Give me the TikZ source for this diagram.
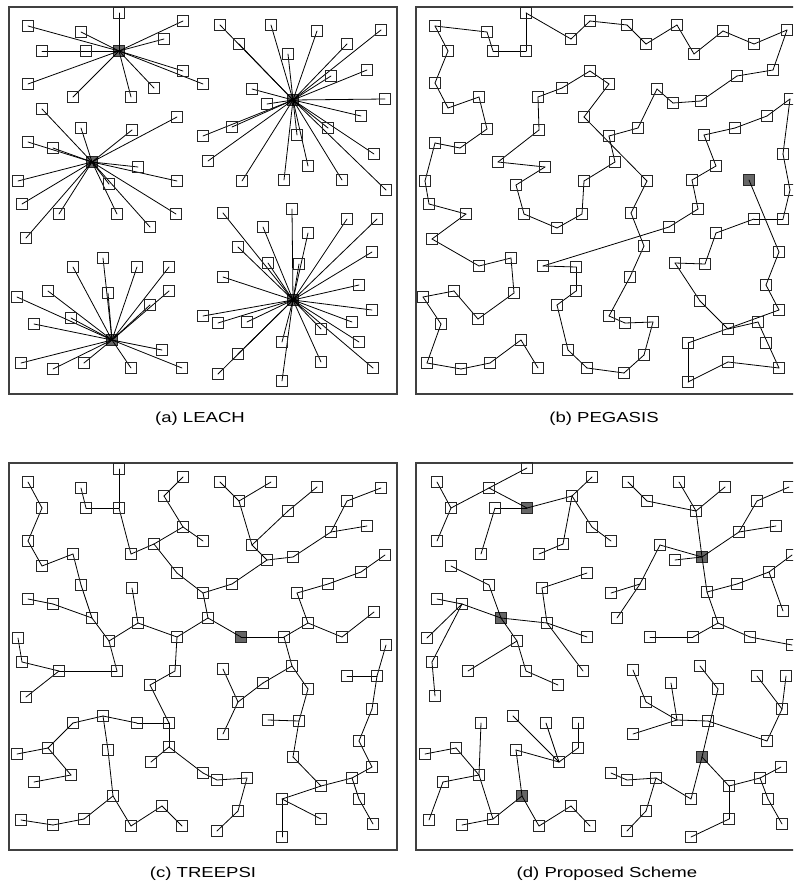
\documentclass[tikz,border=0pt]{standalone}
\usepackage{fontspec}
\newfontfamily\capfont{Liberation Sans}
\usepackage{tikz}
\usepackage{tkz-euclide}
\tikzset{
  sensor/.style={rectangle, draw=black!85, line width=1pt, minimum size=11pt, inner sep=0pt},
  head/.style={sensor, fill=black!60},
  link/.style={black, line width=0.8pt},
  panel/.style={draw=black!75, line width=1.2pt},
  caption/.style={font=\capfont\fontsize{14.5}{17}\selectfont, inner sep=0pt}
}

\begin{document}
\begin{tikzpicture}[x=1pt,y=-1pt]
\useasboundingbox (0,0) rectangle (793,889);
\clip (0,0) rectangle (793,889);
\draw[panel] (9,7) rectangle (397,394);
\draw[panel] (416,7) rectangle (805,394);
\draw[panel] (9,463) rectangle (397,850);
\draw[panel] (416,463) rectangle (805,850);

% (a) LEACH
\tkzDefPoints{119/51/H1, 293/100/H2, 92/162/H3, 112/340/H4, 293/300/H5}
\tkzDefPoints{119/13/A1, 28/26/A2, 81/32/A3, 42/51/A4, 86/51/A5, 183/21/A6, 164/39/A7,
  183/71/A8, 203/84/A9, 154/88/A10, 131/97/A11, 73/97/A12, 28/84/A13}
\tkzDefPoints{220/25/B1, 239/44/B2, 271/25/B3, 288/54/B4, 317/31/B5, 381/30/B6, 347/44/B7,
  367/70/B8, 331/76/B9, 385/99/B10, 361/116/B11, 252/89/B12, 267/104/B13, 232/127/B14,
  203/136/B15, 208/161/B16, 297/135/B17, 328/128/B18, 308/166/B19, 374/154/B20,
  242/181/B21, 284/180/B22, 342/180/B23, 386/190/B24}
\tkzDefPoints{42/109/C1, 81/128/C2, 132/130/C3, 177/117/C4, 28/142/C5, 53/148/C6,
  138/167/C7, 177/181/C8, 18/181/C9, 109/184/C10, 22/204/C11, 59/214/C12, 26/238/C13,
  117/214/C14, 150/227/C15, 176/214/C16}
\tkzDefPoints{73/267/D1, 103/258/D2, 137/267/D3, 169/267/D4, 108/293/D5, 169/291/D6,
  150/305/D7, 48/291/D8, 17/297/D9, 71/318/D10, 34/324/D11, 162/350/D12, 21/363/D13,
  53/369/D14, 84/363/D15, 131/368/D16, 182/368/D17}
\tkzDefPoints{223/213/E1, 292/209/E2, 263/227/E3, 308/233/E4, 347/219/E5, 377/219/E6,
  238/247/E7, 268/263/E8, 299/264/E9, 372/252/E10, 223/277/E11, 359/285/E12, 372/310/E13,
  203/316/E14, 218/323/E15, 247/322/E16, 352/322/E17, 321/329/E18, 282/342/E19,
  359/342/E20, 238/354/E21, 218/374/E22, 321/362/E23, 373/368/E24, 282/381/E25}
\foreach \k in {1,...,5} \node[head] (nH\k) at (H\k) {};
\foreach \c/\n/\k in {A/13/1, B/24/2, C/16/3, D/17/4, E/25/5}
  \foreach \i in {1,...,\n} {\tkzDrawSegment[link](H\k,\c\i)}

% (b) PEGASIS
\tkzDefPoints{538/368/P1, 521/340/P2, 490/363/P3, 461/369/P4, 427/363/P5, 441/324/P6,
  423/297/P7, 454/291/P8, 478/319/P9, 514/293/P10, 511/258/P11, 479/266/P12, 432/239/P13,
  466/214/P14, 429/204/P15, 425/181/P16, 435/143/P17, 460/148/P18, 487/129/P19,
  479/97/P20, 448/108/P21, 435/83/P22, 448/51/P23, 435/26/P24, 487/32/P25, 493/51/P26,
  526/51/P27, 526/13/P28, 571/39/P29, 590/21/P30, 627/25/P31, 646/44/P32, 677/25/P33,
  694/54/P34, 723/31/P35, 754/44/P36, 787/30/P37, 773/70/P38, 737/76/P39, 701/101/P40,
  673/103/P41, 657/89/P42, 638/128/P43, 609/136/P44, 615/162/P45, 584/181/P46,
  582/214/P47, 557/228/P48, 524/214/P49, 516/185/P50, 545/167/P51, 498/162/P52,
  539/130/P53, 538/97/P54, 562/88/P55, 590/71/P56, 609/84/P57, 584/117/P58, 647/181/P59,
  631/213/P60, 644/246/P61, 630/277/P62, 609/316/P63, 625/323/P64, 653/322/P65,
  644/355/P66, 624/373/P67, 587/368/P68, 568/350/P69, 557/305/P70, 576/291/P71,
  576/267/P72, 543/266/P73, 669/227/P74, 698/209/P75, 692/180/P76, 716/166/P77,
  704/135/P78, 735/128/P79, 767/116/P80, 790/99/P81, 783/154/P82, 790/190/P83,
  783/219/P84, 754/219/P85, 716/233/P86, 705/264/P87, 675/263/P88, 700/301/P89,
  728/329/P90, 758/322/P91, 779/368/P92, 728/362/P93, 688/382/P94, 688/343/P95,
  779/310/P96, 766/285/P97, 779/252/P98, 749/180/P99, 766/343/Px}
\node[head] (nP99) at (P99) {};
\foreach \i [evaluate=\i as \j using int(\i+1)] in {1,...,98} {\tkzDrawSegment[link](P\i,P\j)}

% (c) TREEPSI
\tkzDefPoints{119/469/T1, 119/508/T2, 86/508/T3, 81/488/T4, 28/482/T5, 42/508/T6,
  28/541/T7, 42/566/T8, 73/554/T9, 131/554/T10, 154/544/T11, 183/527/T12, 164/496/T13,
  183/477/T14, 203/541/T15, 177/573/T16, 203/593/T17, 232/584/T18, 267/560/T19,
  252/545/T20, 239/501/T21, 220/482/T22, 271/482/T23, 288/511/T24, 317/487/T25,
  293/557/T26, 331/532/T27, 367/526/T28, 347/501/T29, 381/488/T30, 385/555/T31,
  361/572/T32, 328/584/T33, 297/593/T34, 308/623/T35, 342/637/T36, 374/612/T37,
  284/637/T38, 241/637/T39, 208/618/T40, 177/637/T41, 138/623/T42, 132/588/T43,
  109/641/T44, 92/618/T45, 81/585/T46, 53/604/T47, 28/599/T48, 18/638/T49, 386/645/T50}
\tkzDefPoints{22/662/T51, 59/671/T52, 117/671/T53, 26/697/T54, 175/671/T55, 150/685/T56,
  169/723/T57, 137/723/T58, 103/716/T59, 73/723/T60, 48/748/T61, 17/754/T62, 71/775/T63,
  34/782/T64, 108/750/T65, 169/747/T66, 151/762/T67, 203/773/T68, 217/780/T69,
  247/778/T70, 238/811/T71, 217/831/T72, 113/796/T73, 162/806/T74, 182/826/T75,
  131/826/T76, 84/819/T77, 53/825/T78, 21/820/T79, 223/669/T80, 263/683/T81,
  292/666/T82, 238/702/T83, 223/734/T84, 308/689/T85, 268/720/T86, 299/721/T87,
  293/757/T88, 321/786/T89, 352/778/T90, 372/767/T91, 359/741/T92, 372/709/T93,
  377/676/T94, 347/676/T95, 282/799/T96, 321/819/T97, 359/799/T98, 373/824/T99,
  282/837/T100}
\node[head] (nT39) at (T39) {};
\tkzDrawSegments[link](T1,T2 T2,T3 T3,T4 T5,T6 T6,T7 T7,T8 T8,T9 T2,T10 T10,T11 T11,T12
  T12,T13 T13,T14 T12,T15 T11,T16 T16,T17 T17,T18 T18,T19 T19,T20 T20,T21 T21,T22
  T21,T23 T20,T24 T24,T25 T19,T26 T26,T27 T27,T28 T27,T29 T29,T30 T31,T32 T32,T33
  T33,T34 T34,T35 T35,T36 T36,T37 T35,T38 T38,T39 T39,T40 T40,T17 T40,T41 T41,T42
  T42,T43 T42,T44 T44,T45 T45,T46 T46,T9 T48,T47 T47,T45)
\tkzDrawSegments[link](T49,T51 T51,T52 T52,T53 T53,T44 T52,T54 T41,T55 T55,T56 T56,T57
  T57,T58 T58,T59 T59,T60 T60,T61 T61,T62 T61,T63 T63,T64 T59,T65 T65,T73 T57,T66
  T66,T67 T66,T68 T68,T69 T69,T70 T70,T71 T71,T72 T73,T77 T77,T78 T78,T79 T73,T76
  T76,T74 T74,T75 T80,T83 T83,T84 T83,T81 T81,T82 T82,T38 T82,T85 T85,T87 T86,T87
  T87,T88 T88,T89 T89,T90 T90,T91 T89,T96 T96,T97 T96,T100 T90,T98 T98,T99 T91,T92
  T92,T93 T93,T94 T94,T50 T95,T94)

% (d) Proposed Scheme
\tkzDefPoints{527/468/S1, 489/488/S2, 437/482/S3, 451/508/S4, 437/541/S5, 495/508/S6,
  527/508/S7, 481/554/S8, 572/496/S9, 592/477/S10, 592/527/S11, 611/541/S12,
  563/544/S13, 539/554/S14, 451/566/S15, 489/585/S16, 542/588/S17, 587/573/S18,
  437/599/S19, 462/604/S20, 501/618/S21, 547/623/S22, 587/637/S23, 427/638/S24,
  517/641/S25, 628/482/S26, 647/501/S27, 679/482/S28, 696/511/S29, 725/487/S30,
  702/557/S31, 675/560/S32, 660/545/S33, 640/584/S34, 611/593/S35, 617/618/S36,
  739/532/S37, 776/526/S38, 757/501/S39, 789/487/S40, 792/555/S41, 769/572/S42,
  737/584/S43, 707/592/S44, 783/611/S45, 718/623/S46, 693/637/S47, 650/637/S48,
  750/637/S49, 792/645/S50}
\tkzDefPoints{432/662/S51, 435/696/S52, 468/671/S53, 526/671/S54, 558/685/S55,
  583/671/S56, 481/723/S57, 513/716/S58, 546/723/S59, 578/723/S60, 578/748/S61,
  516/750/S62, 559/762/S63, 456/748/S64, 425/754/S65, 479/775/S66, 443/782/S67,
  429/820/S68, 462/825/S69, 493/819/S70, 522/796/S71, 539/826/S72, 571/806/S73,
  590/826/S74, 633/670/S75, 646/702/S76, 633/734/S77, 671/683/S78, 677/720/S79,
  708/721/S80, 700/666/S81, 718/689/S82, 767/741/S83, 757/676/S84, 786/676/S85,
  782/709/S86, 702/757/S87, 611/773/S88, 627/780/S89, 656/778/S90, 691/799/S91,
  646/811/S92, 627/831/S93, 729/786/S94, 760/778/S95, 781/767/S96, 768/799/S97,
  782/824/S98, 729/819/S99, 691/837/S100}
\foreach \k in {7,21,31,71,87} \node[head] (nS\k) at (S\k) {};
\tkzDrawSegments[link](S1,S2 S2,S4 S2,S7 S3,S4 S4,S5 S6,S7 S6,S8 S7,S9 S9,S10 S9,S13
  S13,S14 S9,S11 S11,S12 S15,S16 S16,S21 S21,S25 S17,S18 S17,S22 S19,S20 S20,S21
  S20,S24 S21,S22 S22,S23 S26,S27 S27,S29 S28,S29 S29,S30 S29,S31 S31,S32 S31,S33
  S33,S34 S34,S36 S34,S35 S31,S37 S37,S39 S39,S40 S37,S38 S31,S44 S44,S46 S44,S43
  S43,S42 S42,S41 S42,S45 S46,S47 S47,S48 S46,S49 S49,S50)
\tkzDrawSegments[link](S20,S51 S51,S52 S25,S53 S25,S54 S54,S55 S22,S56 S57,S66 S66,S70
  S64,S66 S64,S65 S66,S67 S67,S68 S70,S69 S70,S71 S71,S62 S71,S72 S72,S73 S73,S74
  S58,S63 S59,S63 S60,S61 S61,S63 S62,S63 S75,S76 S76,S79 S78,S79 S77,S79 S79,S80
  S81,S82 S82,S87 S80,S83 S83,S86 S86,S85 S84,S86 S87,S94 S94,S95 S95,S96 S95,S97
  S97,S98 S94,S99 S99,S100 S87,S91 S88,S89 S89,S90 S90,S91 S90,S92 S92,S93)

% sensors
\foreach \c/\n in {A/13, B/24, C/16, D/17, E/25, P/98}
  \foreach \i in {1,...,\n} \node[sensor] (n\c\i) at (\c\i) {};
\node[sensor] (nPx) at (Px) {};
\foreach \a/\b in {1/38, 40/100}
  \foreach \i in {\a,...,\b} \node[sensor] (nT\i) at (T\i) {};
\foreach \a/\b in {1/6, 8/20, 22/30, 32/70, 72/86, 88/100}
  \foreach \i in {\a,...,\b} \node[sensor] (nS\i) at (S\i) {};

\node[caption] (capa) at (200,419) {\scalebox{1.28}[1]{(a) LEACH}};
\node[caption] (capb) at (604,419) {\scalebox{1.28}[1]{(b) PEGASIS}};
\node[caption] (capc) at (203,874) {\scalebox{1.28}[1]{(c) TREEPSI}};
\node[caption] (capd) at (607,874) {\scalebox{1.28}[1]{(d) Proposed Scheme}};
\end{tikzpicture}
\end{document}
